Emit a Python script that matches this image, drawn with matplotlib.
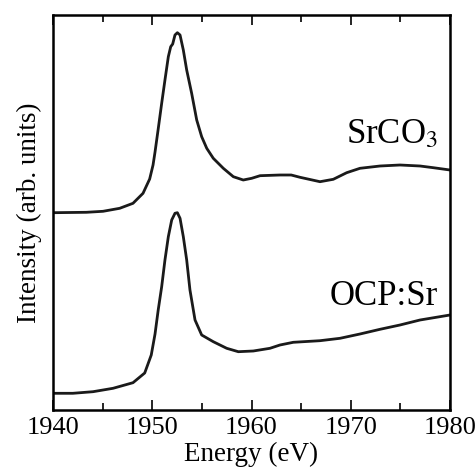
import matplotlib

matplotlib.use("Agg")

import matplotlib.pyplot as plt
from matplotlib.ticker import MultipleLocator

# Sr K-edge XANES, arbitrary units
energy_srco3 = [1940, 1943.36, 1945.04, 1946.72, 1948.06, 1949.07, 1949.74, 1950.08,
                1950.28, 1950.6, 1950.95, 1951.28, 1951.62, 1951.86, 1952.06,
                1952.29, 1952.53, 1952.8, 1953.13, 1953.47, 1953.97, 1954.48,
                1954.98, 1955.49, 1956.15, 1957.16, 1958.17, 1959.17, 1960.02,
                1960.86, 1962.87, 1964.0, 1964.89, 1966.9, 1968.24, 1969.59,
                1970.93, 1972.95, 1974.96, 1976.98, 1978.32, 1980]
intensity_srco3 = [197.3, 197.7, 198.7, 201.7, 206.7, 216.7, 231, 245,
                   258, 281, 306.7, 330, 353.3, 363.3, 366,
                   375, 377.3, 375, 360, 340, 316.7, 290,
                   273.3, 261.7, 251.7, 241.7, 233.3, 230, 231.7,
                   234.3, 235, 235, 232.7, 228.3, 230.7, 237.3,
                   241.7, 244, 245, 244, 242.3, 240]

energy_ocp = [1940, 1942, 1944.03, 1946.05, 1948.06, 1949.24, 1949.9, 1950.28,
              1950.6, 1950.95, 1951.28, 1951.62, 1951.96, 1952.29, 1952.53,
              1952.8, 1953.13, 1953.47, 1953.8, 1954.31, 1954.98, 1956.15,
              1957.5, 1958.67, 1960.18, 1961.86, 1962.87, 1964.21, 1966.9,
              1968.92, 1970.93, 1972.95, 1974.96, 1976.98, 1980]
intensity_ocp = [16.7, 16.7, 18.3, 21.7, 27.3, 37, 55, 76,
                 100, 123.3, 150, 173.3, 190, 196.7, 197.3,
                 191.7, 173.3, 150, 120, 90, 75, 68.3,
                 61.7, 58.3, 59, 61.7, 65, 67.7, 69.3,
                 71.7, 76, 80.7, 85, 90, 95]

plt.rcParams["font.family"] = ["Liberation Serif", "DejaVu Serif"]
plt.rcParams["mathtext.fontset"] = "stix"

fig = plt.figure(figsize=(4.75, 4.68), dpi=100)
ax = fig.add_axes([53 / 475, 1 - 410 / 468, 397 / 475, 395 / 468])

ax.plot(energy_srco3, intensity_srco3, color="#1a1a1a", lw=2.0)
ax.plot(energy_ocp, intensity_ocp, color="#1a1a1a", lw=2.0)

ax.text(1978.8, 267, r"SrCO$_3$", ha="right", va="baseline", fontsize=25)
ax.text(1978.8, 105, "OCP:Sr", ha="right", va="baseline", fontsize=25)

ax.set_xlim(1940, 1980)
ax.set_ylim(0, 395)
ax.xaxis.set_major_locator(MultipleLocator(10))
ax.xaxis.set_minor_locator(MultipleLocator(5))
ax.set_yticks([])
ax.tick_params(axis="x", which="both", direction="in", top=True,
               labelsize=19, width=1.2, pad=5)
ax.tick_params(axis="x", which="major", length=7)
ax.tick_params(axis="x", which="minor", length=5)
for sp in ax.spines.values():
    sp.set_linewidth(1.8)

ax.set_xlabel("Energy (eV)", fontsize=19.5, labelpad=2)
ax.set_ylabel("Intensity (arb. units)", fontsize=19.5, labelpad=8)

fig.savefig("out.png", dpi=100, facecolor="white")
